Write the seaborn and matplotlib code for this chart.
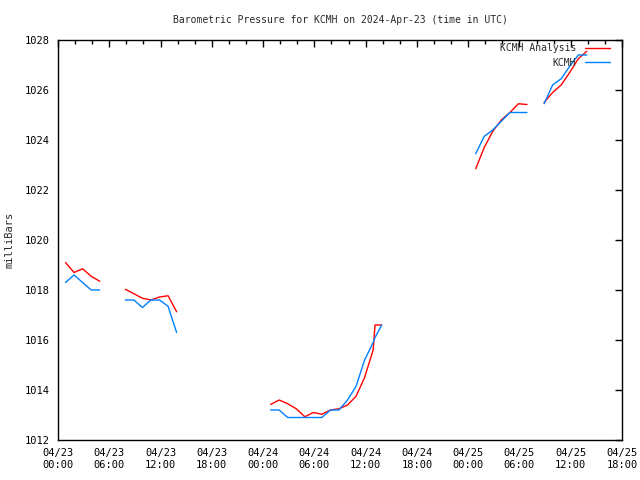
import numpy as np
import pandas as pd
import matplotlib
matplotlib.use("Agg")
import matplotlib.pyplot as plt
import matplotlib.dates as mdates
from matplotlib.lines import Line2D
import seaborn as sns

# ---- data (hours after 2024-04-23 00:00 UTC) ----
seg1_hours = [0.88, 1.88, 2.88, 3.88, 4.88]
seg1_analysis = [1019.1, 1018.7, 1018.85, 1018.55, 1018.35]
seg1_obs = [1018.3, 1018.6, 1018.3, 1018.0, 1018.0]

seg2_hours = [7.88, 8.88, 9.88, 10.88, 11.88, 12.88, 13.88]
seg2_analysis = [1018.03, 1017.85, 1017.67, 1017.6, 1017.72, 1017.77, 1017.13]
seg2_obs = [1017.6, 1017.6, 1017.3, 1017.6, 1017.6, 1017.35, 1016.3]

seg3_hours = [24.88, 25.88, 26.88, 27.88, 28.88, 29.88, 30.88, 31.88,
              32.88, 33.88, 34.88, 35.88, 36.88, 37.1, 37.88]
seg3_analysis = [1013.42, 1013.6, 1013.45, 1013.25, 1012.93, 1013.1, 1013.03,
                 1013.2, 1013.25, 1013.4, 1013.75, 1014.5, 1015.6, 1016.6, 1016.6]
seg3_obs = [1013.2, 1013.2, 1012.9, 1012.9, 1012.9, 1012.9, 1012.9, 1013.2,
            1013.2, 1013.6, 1014.15, 1015.2, 1015.9, 1016.1, 1016.6]

seg4_hours = [48.88, 49.88, 50.88, 51.88, 52.88, 53.88, 54.88]
seg4_analysis = [1022.85, 1023.7, 1024.35, 1024.8, 1025.1, 1025.45, 1025.42]
seg4_obs = [1023.45, 1024.15, 1024.4, 1024.75, 1025.1, 1025.1, 1025.1]

seg5_hours = [56.88, 57.88, 58.88, 59.88, 60.88, 61.88]
seg5_analysis = [1025.5, 1025.9, 1026.2, 1026.7, 1027.25, 1027.55]
seg5_obs = [1025.45, 1026.2, 1026.45, 1026.95, 1027.4, 1027.4]

series_names = ["KCMH Analysis", "KCMH"]
series_colors = ["#ff0000", "#0080ff"]

segments = [
    (seg1_hours, seg1_analysis, seg1_obs),
    (seg2_hours, seg2_analysis, seg2_obs),
    (seg3_hours, seg3_analysis, seg3_obs),
    (seg4_hours, seg4_analysis, seg4_obs),
    (seg5_hours, seg5_analysis, seg5_obs),
]

start = pd.Timestamp("2024-04-23 00:00")
rows = []
for i, (hrs, ana, obs) in enumerate(segments):
    for h, a, o in zip(hrs, ana, obs):
        t = start + pd.Timedelta(hours=h)
        rows.append({"time": t, "pressure": a, "series": series_names[0], "seg": i})
        rows.append({"time": t, "pressure": o, "series": series_names[1], "seg": i})
df = pd.DataFrame(rows)

sns.set_style("white")
mono = "DejaVu Sans Mono"
plt.rcParams["font.family"] = [mono, "DejaVu Sans"]

fig = plt.figure(figsize=(6.4, 4.8), dpi=100)
ax = fig.add_axes([58 / 640, 40 / 480, 564 / 640, 400 / 480])

sns.lineplot(data=df, x="time", y="pressure", hue="series", units="seg",
             estimator=None, palette=dict(zip(series_names, series_colors)),
             hue_order=series_names, linewidth=1.0, ax=ax, legend=False)

ax.set_xlim(start, start + pd.Timedelta(hours=66))
ax.set_ylim(1012, 1028)
ax.set_yticks(np.arange(1012, 1029, 2))
ax.xaxis.set_major_locator(mdates.HourLocator(byhour=[0, 6, 12, 18]))
ax.xaxis.set_minor_locator(mdates.HourLocator(interval=2))
ax.xaxis.set_major_formatter(mdates.DateFormatter("%m/%d\n%H:%M"))

ax.tick_params(axis="both", which="both", direction="in", top=True, right=True,
               labelsize=7.5, colors="black")
ax.tick_params(axis="both", which="major", length=5, width=1, pad=6)
ax.tick_params(axis="x", which="minor", length=3, width=1)
for lab in ax.get_xticklabels():
    lab.set_horizontalalignment("center")
for s in ax.spines.values():
    s.set_color("black")
    s.set_linewidth(1.0)

ax.set_xlabel("")
ax.set_ylabel("milliBars", fontsize=7.5, labelpad=7)
ax.set_title("Barometric Pressure for KCMH on 2024-Apr-23 (time in UTC)",
             fontsize=7, pad=12)

handles = [Line2D([], [], color=c, lw=1.0) for c in series_colors]
ax.legend(handles, series_names, loc="upper right",
          bbox_to_anchor=((610 - 58) / 564, (440 - 43) / 400),
          frameon=False, markerfirst=False, fontsize=7, handlelength=2.6,
          labelspacing=0.5, borderaxespad=0.0, handletextpad=0.9,
          borderpad=0.0)

fig.savefig("out.png", dpi=100)
